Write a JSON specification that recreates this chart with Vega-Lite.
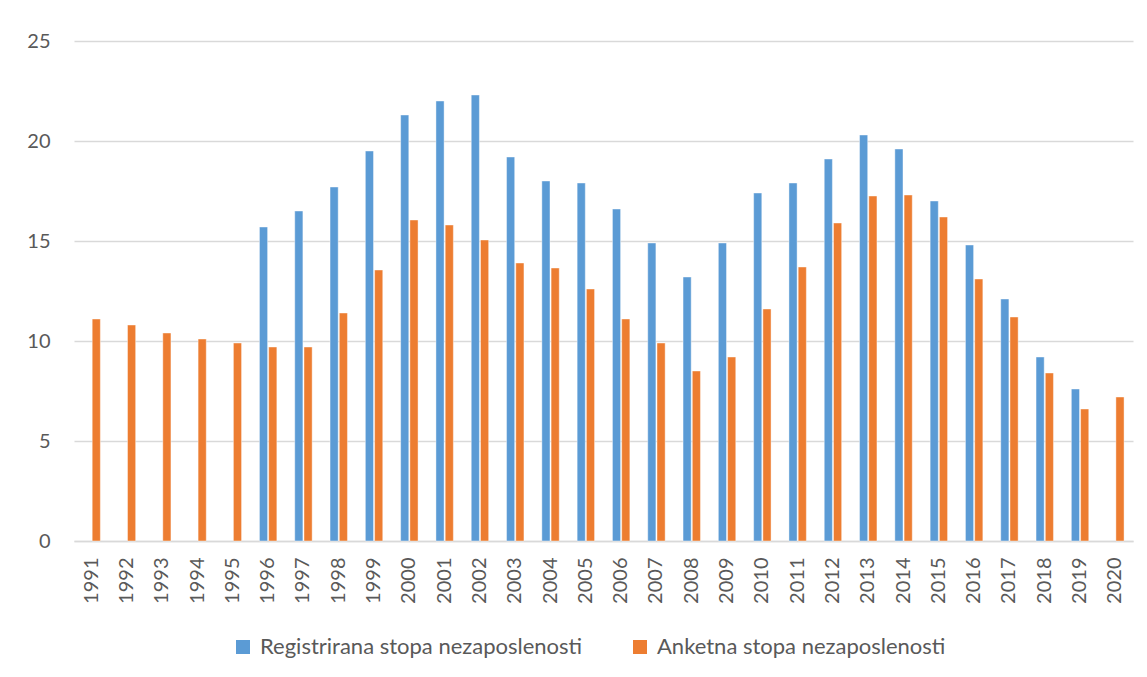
{
  "$schema": "https://vega.github.io/schema/vega-lite/v6.json",
  "width": 1059,
  "height": 500,
  "autosize": {"type": "none"},
  "padding": {"left": 74, "top": 41, "right": 14, "bottom": 136},
  "background": "white",
  "config": {
    "view": {"stroke": null},
    "font": "Lato",
    "axis": {"labelFont": "Lato", "labelColor": "#595959", "titleColor": "#595959"},
    "legend": {"labelFont": "Lato", "labelColor": "#595959"}
  },
  "data": {
    "values": [
      {"year": "1991", "series": "Anketna stopa nezaposlenosti", "value": 11.1},
      {"year": "1992", "series": "Anketna stopa nezaposlenosti", "value": 10.8},
      {"year": "1993", "series": "Anketna stopa nezaposlenosti", "value": 10.4},
      {"year": "1994", "series": "Anketna stopa nezaposlenosti", "value": 10.1},
      {"year": "1995", "series": "Anketna stopa nezaposlenosti", "value": 9.9},
      {"year": "1996", "series": "Registrirana stopa nezaposlenosti", "value": 15.7},
      {"year": "1996", "series": "Anketna stopa nezaposlenosti", "value": 9.7},
      {"year": "1997", "series": "Registrirana stopa nezaposlenosti", "value": 16.5},
      {"year": "1997", "series": "Anketna stopa nezaposlenosti", "value": 9.7},
      {"year": "1998", "series": "Registrirana stopa nezaposlenosti", "value": 17.7},
      {"year": "1998", "series": "Anketna stopa nezaposlenosti", "value": 11.4},
      {"year": "1999", "series": "Registrirana stopa nezaposlenosti", "value": 19.5},
      {"year": "1999", "series": "Anketna stopa nezaposlenosti", "value": 13.55},
      {"year": "2000", "series": "Registrirana stopa nezaposlenosti", "value": 21.3},
      {"year": "2000", "series": "Anketna stopa nezaposlenosti", "value": 16.05},
      {"year": "2001", "series": "Registrirana stopa nezaposlenosti", "value": 22.0},
      {"year": "2001", "series": "Anketna stopa nezaposlenosti", "value": 15.8},
      {"year": "2002", "series": "Registrirana stopa nezaposlenosti", "value": 22.3},
      {"year": "2002", "series": "Anketna stopa nezaposlenosti", "value": 15.05},
      {"year": "2003", "series": "Registrirana stopa nezaposlenosti", "value": 19.2},
      {"year": "2003", "series": "Anketna stopa nezaposlenosti", "value": 13.9},
      {"year": "2004", "series": "Registrirana stopa nezaposlenosti", "value": 18.0},
      {"year": "2004", "series": "Anketna stopa nezaposlenosti", "value": 13.65},
      {"year": "2005", "series": "Registrirana stopa nezaposlenosti", "value": 17.9},
      {"year": "2005", "series": "Anketna stopa nezaposlenosti", "value": 12.6},
      {"year": "2006", "series": "Registrirana stopa nezaposlenosti", "value": 16.6},
      {"year": "2006", "series": "Anketna stopa nezaposlenosti", "value": 11.1},
      {"year": "2007", "series": "Registrirana stopa nezaposlenosti", "value": 14.9},
      {"year": "2007", "series": "Anketna stopa nezaposlenosti", "value": 9.9},
      {"year": "2008", "series": "Registrirana stopa nezaposlenosti", "value": 13.2},
      {"year": "2008", "series": "Anketna stopa nezaposlenosti", "value": 8.5},
      {"year": "2009", "series": "Registrirana stopa nezaposlenosti", "value": 14.9},
      {"year": "2009", "series": "Anketna stopa nezaposlenosti", "value": 9.2},
      {"year": "2010", "series": "Registrirana stopa nezaposlenosti", "value": 17.4},
      {"year": "2010", "series": "Anketna stopa nezaposlenosti", "value": 11.6},
      {"year": "2011", "series": "Registrirana stopa nezaposlenosti", "value": 17.9},
      {"year": "2011", "series": "Anketna stopa nezaposlenosti", "value": 13.7},
      {"year": "2012", "series": "Registrirana stopa nezaposlenosti", "value": 19.1},
      {"year": "2012", "series": "Anketna stopa nezaposlenosti", "value": 15.9},
      {"year": "2013", "series": "Registrirana stopa nezaposlenosti", "value": 20.3},
      {"year": "2013", "series": "Anketna stopa nezaposlenosti", "value": 17.25},
      {"year": "2014", "series": "Registrirana stopa nezaposlenosti", "value": 19.6},
      {"year": "2014", "series": "Anketna stopa nezaposlenosti", "value": 17.3},
      {"year": "2015", "series": "Registrirana stopa nezaposlenosti", "value": 17.0},
      {"year": "2015", "series": "Anketna stopa nezaposlenosti", "value": 16.2},
      {"year": "2016", "series": "Registrirana stopa nezaposlenosti", "value": 14.8},
      {"year": "2016", "series": "Anketna stopa nezaposlenosti", "value": 13.1},
      {"year": "2017", "series": "Registrirana stopa nezaposlenosti", "value": 12.1},
      {"year": "2017", "series": "Anketna stopa nezaposlenosti", "value": 11.2},
      {"year": "2018", "series": "Registrirana stopa nezaposlenosti", "value": 9.2},
      {"year": "2018", "series": "Anketna stopa nezaposlenosti", "value": 8.4},
      {"year": "2019", "series": "Registrirana stopa nezaposlenosti", "value": 7.6},
      {"year": "2019", "series": "Anketna stopa nezaposlenosti", "value": 6.6},
      {"year": "2020", "series": "Anketna stopa nezaposlenosti", "value": 7.2}
    ]
  },
  "mark": {"type": "bar", "stroke": "white", "strokeWidth": 0.6, "strokeOpacity": 0.7},
  "encoding": {
    "x": {
      "field": "year",
      "type": "nominal",
      "sort": null,
      "scale": {"paddingInner": 0.507, "paddingOuter": 0.2535},
      "axis": {
        "title": null,
        "labelAngle": -90,
        "labelFontSize": 20,
        "labelPadding": 16,
        "ticks": false,
        "domainColor": "#D9D9D9",
        "domainWidth": 1.5,
        "grid": false
      }
    },
    "xOffset": {
      "field": "series",
      "type": "nominal",
      "scale": {"domain": ["Registrirana stopa nezaposlenosti", "Anketna stopa nezaposlenosti"], "paddingInner": 0.12, "paddingOuter": 0}
    },
    "y": {
      "field": "value",
      "type": "quantitative",
      "scale": {"domain": [0, 25], "nice": false},
      "axis": {
        "title": null,
        "values": [0, 5, 10, 15, 20, 25],
        "labelFontSize": 20,
        "labelPadding": 24,
        "ticks": false,
        "domain": false,
        "gridColor": "#D9D9D9",
        "gridWidth": 1.5
      }
    },
    "color": {
      "field": "series",
      "type": "nominal",
      "scale": {
        "domain": ["Registrirana stopa nezaposlenosti", "Anketna stopa nezaposlenosti"],
        "range": ["#5B9BD5", "#ED7D31"]
      },
      "legend": {
        "title": null,
        "orient": "none",
        "legendX": 158,
        "legendY": 595,
        "direction": "horizontal",
        "symbolType": "square",
        "symbolSize": 196,
        "symbolStrokeWidth": 0,
        "labelFontSize": 22,
        "labelLimit": 500,
        "columnPadding": 46,
        "symbolOffset": 0,
        "labelOffset": 6
      }
    }
  }
}
